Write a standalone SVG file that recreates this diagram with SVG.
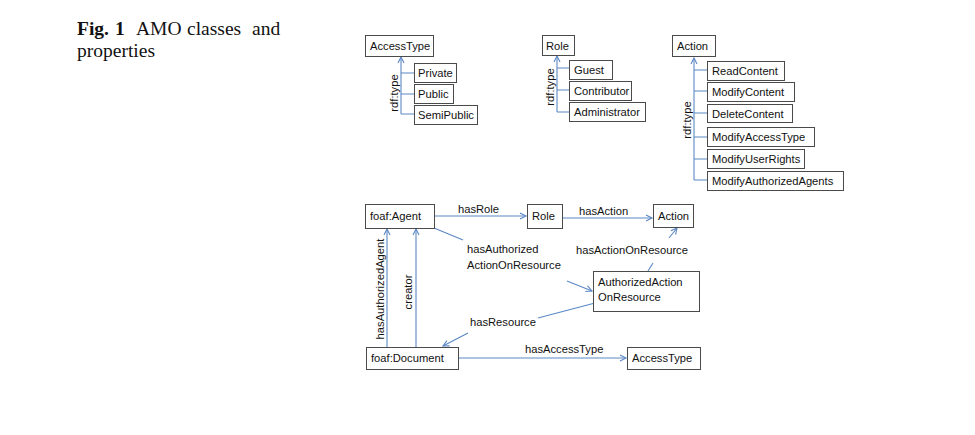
<svg xmlns="http://www.w3.org/2000/svg" width="975" height="435" viewBox="0 0 975 435">
<style>
.bx{fill:#fff;stroke:#4a4a4a;stroke-width:1}
.t{font-family:"Liberation Sans",Arial,sans-serif;font-size:11.2px;fill:#111}
.ln{fill:none;stroke:#5b87c5;stroke-width:1.1}
.ttl{font-family:"Liberation Serif","Times New Roman",serif;font-size:19.5px;fill:#111}
</style>
<defs>
<marker id="ar" markerUnits="userSpaceOnUse" markerWidth="10" markerHeight="10" refX="7" refY="4" orient="auto">
<path d="M1,1 L7,4 L1,7" fill="none" stroke="#5b87c5" stroke-width="1.1"/>
</marker>
</defs>
<rect width="975" height="435" fill="#fff"/>
<g id="title">
<text class="ttl" x="77" y="35" font-weight="bold">Fig.</text>
<text class="ttl" x="115" y="35" font-weight="bold">1</text>
<text class="ttl" x="136" y="35">AMO</text>
<text class="ttl" x="187" y="35">classes</text>
<text class="ttl" x="252" y="35">and</text>
<text class="ttl" x="77" y="57">properties</text>
</g>
<g id="connectors">
<path class="ln" d="M401,114 L401,57" marker-end="url(#ar)"/>
<path class="ln" d="M401,73 H414 M401,94 H414 M401,114 H414"/>
<text class="t" transform="translate(398,93) rotate(-90)" text-anchor="middle">rdf:type</text>
<path class="ln" d="M557,112 L557,56" marker-end="url(#ar)"/>
<path class="ln" d="M557,68 H569 M557,90 H569 M557,112 H569"/>
<text class="t" transform="translate(554,87) rotate(-90)" text-anchor="middle">rdf:type</text>
<path class="ln" d="M694,180 L694,58" marker-end="url(#ar)"/>
<path class="ln" d="M694,70 H707 M694,91 H707 M694,113 H707 M694,137 H707 M694,159 H707 M694,180 H707"/>
<text class="t" transform="translate(691,120) rotate(-90)" text-anchor="middle">rdf:type</text>
<path class="ln" d="M434,216 L526,216" marker-end="url(#ar)"/>
<text class="t" x="458" y="213">hasRole</text>
<path class="ln" d="M562,218 L652,218" marker-end="url(#ar)"/>
<text class="t" x="579" y="215">hasAction</text>
<path class="ln" d="M434,228 L463,240"/>
<path class="ln" d="M567,281 L592,291" marker-end="url(#ar)"/>
<text class="t" x="467" y="253">hasAuthorized</text>
<text class="t" x="467" y="269">ActionOnResource</text>
<path class="ln" d="M648,271 L653,263"/>
<path class="ln" d="M669,238 L677,228" marker-end="url(#ar)"/>
<text class="t" x="576" y="254">hasActionOnResource</text>
<path class="ln" d="M595,303 L538,318"/>
<path class="ln" d="M468,333 L443,346" marker-end="url(#ar)"/>
<text class="t" x="470" y="326">hasResource</text>
<path class="ln" d="M387,347 L387,229" marker-end="url(#ar)"/>
<path class="ln" d="M416,347 L416,229" marker-end="url(#ar)"/>
<text class="t" transform="translate(384,289) rotate(-90)" text-anchor="middle">hasAuthorizedAgent</text>
<text class="t" transform="translate(412,292) rotate(-90)" text-anchor="middle">creator</text>
<path class="ln" d="M459,358 L626,358" marker-end="url(#ar)"/>
<text class="t" x="525" y="353">hasAccessType</text>
</g>
<g id="n-accesstype"><rect class="bx" x="365.5" y="35.5" width="68" height="21"/><text class="t" x="370" y="50">AccessType</text></g>
<g id="n-private"><rect class="bx" x="414.5" y="63.5" width="42" height="19"/><text class="t" x="418" y="77">Private</text></g>
<g id="n-public"><rect class="bx" x="414.5" y="84.5" width="39" height="19"/><text class="t" x="418" y="98">Public</text></g>
<g id="n-semipublic"><rect class="bx" x="414.5" y="105.5" width="63" height="19"/><text class="t" x="418" y="119">SemiPublic</text></g>
<g id="n-role"><rect class="bx" x="542.5" y="35.5" width="32" height="20"/><text class="t" x="546" y="50">Role</text></g>
<g id="n-guest"><rect class="bx" x="569.5" y="60.5" width="43" height="19"/><text class="t" x="574" y="74">Guest</text></g>
<g id="n-contributor"><rect class="bx" x="569.5" y="81.5" width="62" height="19"/><text class="t" x="574" y="95">Contributor</text></g>
<g id="n-administrator"><rect class="bx" x="569.5" y="102.5" width="76" height="19"/><text class="t" x="574" y="116">Administrator</text></g>
<g id="n-action"><rect class="bx" x="672.5" y="35.5" width="43" height="21"/><text class="t" x="677" y="50">Action</text></g>
<g id="n-readcontent"><rect class="bx" x="707.5" y="61.5" width="77" height="19"/><text class="t" x="712" y="75">ReadContent</text></g>
<g id="n-modifycontent"><rect class="bx" x="707.5" y="82.5" width="87" height="19"/><text class="t" x="712" y="96">ModifyContent</text></g>
<g id="n-deletecontent"><rect class="bx" x="707.5" y="104.5" width="85" height="18"/><text class="t" x="712" y="118">DeleteContent</text></g>
<g id="n-modifyaccesstype"><rect class="bx" x="707.5" y="127.5" width="107" height="19"/><text class="t" x="712" y="141">ModifyAccessType</text></g>
<g id="n-modifyuserrights"><rect class="bx" x="707.5" y="149.5" width="97" height="19"/><text class="t" x="712" y="163">ModifyUserRights</text></g>
<g id="n-modifyauthorizedagents"><rect class="bx" x="707.5" y="171.5" width="136" height="19"/><text class="t" x="712" y="185">ModifyAuthorizedAgents</text></g>
<g id="n-foafagent"><rect class="bx" x="365.5" y="204.5" width="69" height="24"/><text class="t" x="370" y="220">foaf:Agent</text></g>
<g id="n-role2"><rect class="bx" x="527.5" y="204.5" width="35" height="24"/><text class="t" x="532" y="220">Role</text></g>
<g id="n-action2"><rect class="bx" x="653.5" y="204.5" width="40" height="23"/><text class="t" x="658" y="220">Action</text></g>
<g id="n-authorizedaction"><rect class="bx" x="593.5" y="271.5" width="106" height="40"/><text class="t" x="598" y="286">AuthorizedAction</text><text class="t" x="598" y="301">OnResource</text></g>
<g id="n-foafdocument"><rect class="bx" x="366.5" y="347.5" width="92" height="22"/><text class="t" x="371" y="362">foaf:Document</text></g>
<g id="n-accesstype2"><rect class="bx" x="627.5" y="347.5" width="73" height="22"/><text class="t" x="632" y="362">AccessType</text></g>
</svg>
